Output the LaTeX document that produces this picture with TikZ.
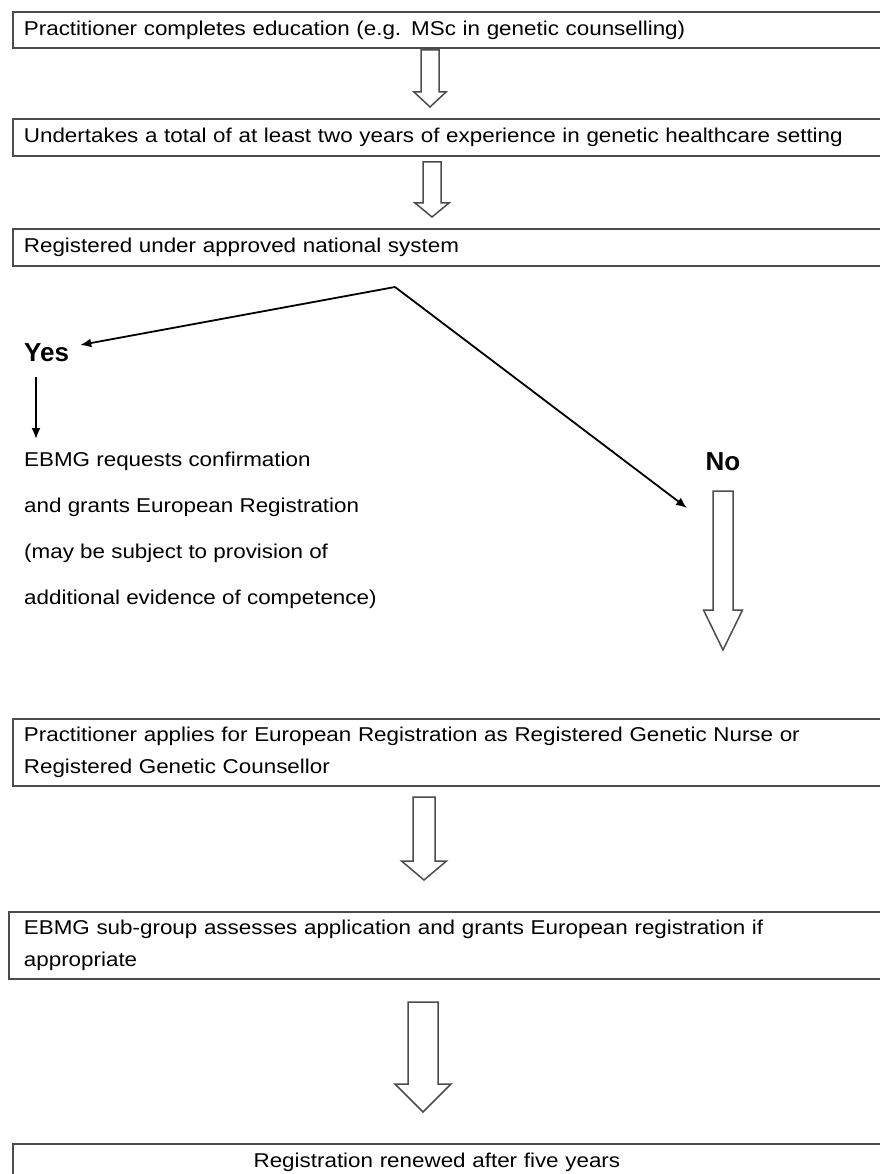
\documentclass[tikz,border=0pt]{standalone}
\usepackage{fontspec}
\setmainfont{Liberation Sans}[FakeStretch=1.12]
\newfontfamily\choicefont{Liberation Sans}
\usepackage{tikz}
\usetikzlibrary{arrows.meta,positioning}
\definecolor{boxline}{gray}{0.3}
\tikzset{
  stepbox/.style = {draw=boxline, line width=1.8pt, anchor=north west,
                    text width=853pt, inner xsep=11pt, inner ysep=0pt,
                    align=left, font=\fontsize{20}{32}\selectfont},
  choice/.style  = {font=\choicefont\fontsize{26}{30}\selectfont\bfseries, inner sep=0pt},
  sig/.style     = {-{Latex[length=11pt,width=9pt]}, line width=1.8pt},
  hollow/.style  = {draw=boxline, line width=1.5pt, fill=white, line join=miter},
}
% hollow block arrow: centre x, top, neck, tip, half shaft, half head
\newcommand{\fatarrow}[6]{\draw[hollow] ({#1-#5},#2) -- ({#1+#5},#2) -- ({#1+#5},#3)
  -- ({#1+#6},#3) -- (#1,#4) -- ({#1-#6},#3) -- ({#1-#5},#3) -- cycle;}

\begin{document}
\begin{tikzpicture}[x=1pt, y=-1pt]
\useasboundingbox (0,0) rectangle (879,1174);
\fill[white] (0,0) rectangle (879,1174);
% ---------------- steps ----------------
\node[stepbox, minimum height=36pt] (edu) at (12,11)
   {Practitioner completes education (e.g. MSc in genetic counselling)};
\node[stepbox, minimum height=37pt] (exper) at (12,118)
   {Undertakes a total of at least two years of experience in genetic healthcare setting};
\node[stepbox, minimum height=37pt] (natreg) at (12,228)
   {Registered under approved national system};
\fatarrow{430}{50}{92}{107}{9}{16}
\fatarrow{432}{162}{203}{217}{9}{17}
% ---------------- decision ----------------
\coordinate (split) at (395,287);
\node[choice, anchor=west] (yes) at (24,353) {Yes};
\node[choice] (no) at (723,462) {No};
\coordinate (noin) at (687,508);
\draw[sig] (split) -- ([shift={(11,-8)}]yes.east);
\draw[sig] (split) -- (noin);
\node[anchor=north west, inner sep=0pt, align=left,
      font=\fontsize{20}{46}\selectfont] (confirm) at (24,452)
   {EBMG requests confirmation\\and grants European Registration\\
    (may be subject to provision of\\additional evidence of competence)};
\coordinate (ytop) at (36,377);
\coordinate (ybot) at (36,439);
\draw[sig] (ytop) -- (ybot);
\fatarrow{723}{491}{610}{650}{10}{19.5}
% ---------------- application ----------------
\node[stepbox, minimum height=67pt] (apply) at (12,718)
   {Practitioner applies for European Registration as Registered Genetic Nurse or\\
    Registered Genetic Counsellor};
\fatarrow{424}{797}{861}{880}{11}{22.5}
\node[stepbox, minimum height=67pt, inner xsep=15pt] (assess) at (8,911)
   {EBMG sub-group assesses application and grants European registration if\\
    appropriate};
\fatarrow{423}{1002}{1084}{1112}{15}{28}
\node[stepbox, minimum height=36pt] (renew) at (12,1143)
   {\makebox[826pt]{Registration renewed after five years}};
\end{tikzpicture}
\end{document}
